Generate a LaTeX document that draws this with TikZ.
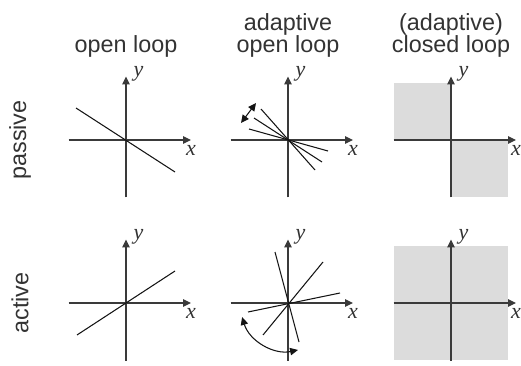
\documentclass[tikz,border=0pt]{standalone}
\usepackage{fontspec}
\setmainfont{Liberation Serif}
\setsansfont{Liberation Sans}
\usetikzlibrary{arrows.meta}
\definecolor{axisColor}{HTML}{3A3A3A}
\definecolor{lineColor}{HTML}{141414}
\definecolor{fillRegion}{HTML}{DCDCDC}
\definecolor{textMain}{HTML}{333333}
\tikzset{
  axis/.style={-{Triangle[length=4.5pt, width=4.2pt]}, line width=0.6pt, color=axisColor},
  gainline/.style={line width=0.6pt, color=lineColor},
  sweeparrow/.style={{Triangle[length=4.5pt, width=4.2pt]}-{Triangle[length=4.5pt, width=4.2pt]},
    line width=0.6pt, color=lineColor},
  region/.style={fill=fillRegion, draw=none},
  axlabel/.style={font=\fontsize{12.5}{14}\selectfont\itshape, text=textMain, inner sep=0pt},
  coltitle/.style={font=\sffamily\fontsize{13.3}{15}\selectfont, text=textMain,
    anchor=base, inner sep=0pt},
  rowtitle/.style={font=\sffamily\fontsize{13.3}{15}\selectfont, text=textMain,
    rotate=90, inner sep=0pt},
}

\begin{document}
\begin{tikzpicture}
  \useasboundingbox (0,0) rectangle (10.42,7.3);

  % === Panel origins ===
  \coordinate (olP) at (2.52,4.50);
  \coordinate (aoP) at (5.76,4.50);
  \coordinate (clP) at (9.02,4.50);
  \coordinate (olA) at (2.52,1.24);
  \coordinate (aoA) at (5.76,1.24);
  \coordinate (clA) at (9.02,1.24);

  % === Shaded regions (closed loop) ===
  \fill[region] ([shift={(-1.14,0)}]clP) rectangle ([shift={(0,1.14)}]clP);
  \fill[region] (clP) rectangle ([shift={(1.14,-1.14)}]clP);
  \fill[region] ([shift={(-1.14,-1.14)}]clA) rectangle ([shift={(1.14,1.14)}]clA);

  % === Axes ===
  \foreach \o in {olP,aoP,clP,olA,aoA,clA} {
    \coordinate (\o-xl) at ([xshift=-1.15cm]\o);
    \coordinate (\o-xr) at ([xshift=1.30cm]\o);
    \coordinate (\o-yb) at ([yshift=-1.15cm]\o);
    \coordinate (\o-yt) at ([yshift=1.27cm]\o);
    \draw[axis] (\o-xl) -- (\o-xr);
    \draw[axis] (\o-yb) -- (\o-yt);
    \node[axlabel] (\o-xlab) at ([yshift=-0.21cm]\o-xr) {x};
    \node[axlabel] (\o-ylab) at ([shift={(0.25,0.06)}]\o-yt) {y};
  }

  % === Open loop ===
  \begin{scope}[shift={(olP)}]
    \draw[gainline] (-1.00,0.64) -- (0.98,-0.64);
  \end{scope}
  \begin{scope}[shift={(olA)}]
    \draw[gainline] (-0.98,-0.64) -- (0.98,0.64);
  \end{scope}

  % === Adaptive open loop ===
  \begin{scope}[shift={(aoP)}]
    \draw[gainline] (-0.54,0.62) -- (0.54,-0.60);
    \draw[gainline] (-0.68,0.44) -- (0.68,-0.44);
    \draw[gainline] (-0.78,0.22) -- (0.80,-0.22);
    \draw[sweeparrow] (-0.94,0.34) -- (-0.64,0.74);
  \end{scope}
  \begin{scope}[shift={(aoA)}]
    \draw[gainline] (-0.26,1.02) -- (0.22,-0.78);
    \draw[gainline] (-0.50,-0.64) -- (0.70,0.82);
    \draw[gainline] (-0.80,-0.18) -- (1.04,0.20);
    \draw[sweeparrow] (197:0.96) arc[start angle=197, end angle=282, radius=0.96];
  \end{scope}

  % === Column titles ===
  \node[coltitle] (tOl) at (2.52,6.25) {open loop};
  \node[coltitle] (tAoTop) at (5.76,6.69) {adaptive};
  \node[coltitle] (tAoBot) at (5.76,6.25) {open loop};
  \node[coltitle] (tClTop) at (9.02,6.69) {(adaptive)};
  \node[coltitle] (tClBot) at (9.02,6.25) {closed loop};

  % === Row titles ===
  \node[rowtitle] (rPassive) at (0.40,4.50) {passive};
  \node[rowtitle] (rActive) at (0.40,1.24) {active};

\end{tikzpicture}
\end{document}
